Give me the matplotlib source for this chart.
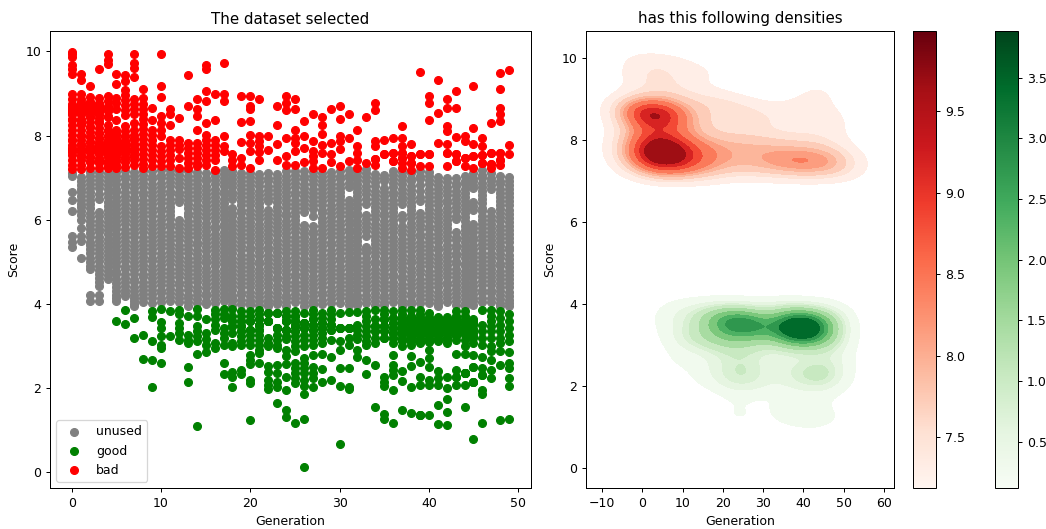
import matplotlib
matplotlib.use("Agg")
import matplotlib.pyplot as plt
import seaborn as sns
from matplotlib.cm import ScalarMappable
from matplotlib.colors import Normalize

# everything in the reference sits at 0.9 of the default sizes
plt.rcParams.update({
    "font.size": 9,
    "axes.linewidth": 0.72,
    "axes.titlepad": 5.4,
    "axes.labelpad": 3.6,
    "lines.linewidth": 1.35,
    "lines.markersize": 5.6,
    "patch.linewidth": 0.9,
    "xtick.major.size": 3.15,
    "ytick.major.size": 3.15,
    "xtick.major.width": 0.72,
    "ytick.major.width": 0.72,
    "xtick.major.pad": 3.15,
    "ytick.major.pad": 3.15,
})

# scores per generation, index in the list = generation
unused = [
    [7.12, 7.03, 6.67, 6.47, 6.2, 5.62, 5.48, 5.36],
    [7.02, 6.83, 6.65, 6.47, 6.3, 6.12, 6.0, 5.8, 5.62, 5.5, 5.1],
    [7.14, 6.95, 6.76, 6.56, 6.37, 6.17, 5.98, 5.78, 5.58, 5.39, 5.2, 5.0, 4.82, 4.22, 4.08],
    [7.13, 6.94, 6.75, 6.5, 6.18, 5.98, 5.79, 5.6, 5.4, 5.2, 5.01, 4.8, 4.62, 4.43, 4.2, 4.06],
    [7.12, 6.93, 6.73, 6.53, 6.33, 6.14, 5.94, 5.75, 5.55, 5.35, 5.16, 4.96, 4.77, 4.58],
    [7.13, 6.95, 6.74, 6.55, 6.35, 6.16, 5.96, 5.77, 5.57, 5.38, 5.18, 4.99, 4.79, 4.6, 4.4, 4.22, 4.08],
    [7.15, 6.96, 6.77, 6.57, 6.38, 6.18, 5.99, 5.79, 5.6, 5.4, 5.21, 5.01, 4.82, 4.62, 4.43, 4.25, 4.18],
    [7.14, 6.94, 6.75, 6.55, 6.36, 6.16, 5.97, 5.77, 5.58, 5.38, 5.19, 4.99, 4.8, 4.6, 4.41, 4.22, 4.06, 3.94],
    [7.16, 6.97, 6.77, 6.58, 6.38, 6.19, 5.99, 5.8, 5.6, 5.41, 5.21, 5.02, 4.82, 4.63, 4.43, 4.24, 4.05],
    [7.15, 6.96, 6.76, 6.57, 6.37, 6.18, 5.98, 5.79, 5.59, 5.4, 5.2, 5.01, 4.81, 4.62, 4.42, 4.23, 4.03],
    [7.17, 6.98, 6.78, 6.59, 6.39, 6.2, 6.0, 5.81, 5.61, 5.42, 5.22, 5.03, 4.83, 4.64, 4.44, 4.25, 4.05],
    [7.18, 6.99, 6.79, 6.6, 6.4, 6.21, 6.01, 5.82, 5.62, 5.43, 5.23, 5.04, 4.84, 4.65, 4.45, 4.26, 4.06],
    [7.16, 6.97, 6.77, 6.58, 6.42, 6.0, 5.8, 5.61, 5.41, 5.22, 5.02, 4.83, 4.63, 4.44, 4.24, 4.05],
    [7.05, 6.86, 6.66, 6.47, 6.27, 6.08, 5.88, 5.69, 5.49, 5.3, 5.1, 4.91, 4.71, 4.52, 4.32, 4.13, 3.96],
    [7.14, 6.95, 6.75, 6.56, 6.36, 6.17, 5.97, 5.78, 5.58, 5.39, 5.19, 5.0, 4.8, 4.61, 4.41, 4.22, 4.02],
    [7.1, 6.91, 6.71, 6.52, 6.32, 6.13, 5.93, 5.74, 5.54, 5.35, 5.15, 4.96, 4.76, 4.57, 4.37, 4.18, 4.0],
    [7.13, 6.94, 6.74, 6.55, 6.35, 6.16, 5.96, 5.77, 5.57, 5.38, 5.18, 4.99, 4.79, 4.6, 4.4, 4.21, 4.01],
    [7.18, 6.99, 6.79, 6.6, 6.4, 6.21, 6.01, 5.82, 5.62, 5.43, 5.23, 5.04, 4.84, 4.65, 4.45, 4.26, 4.06],
    [7.16, 6.97, 6.77, 6.58, 6.27, 6.08, 5.88, 5.69, 5.49, 5.3, 5.1, 4.91, 4.71, 4.52, 4.32, 4.13, 3.98],
    [7.12, 6.93, 6.73, 6.54, 6.34, 6.15, 5.95, 5.76, 5.56, 5.37, 5.17, 4.98, 4.78, 4.59, 4.39, 4.2, 4.0],
    [7.02, 6.83, 6.63, 6.44, 6.24, 6.05, 5.85, 5.66, 5.46, 5.27, 5.07, 4.88, 4.68, 4.49, 4.29, 4.1, 3.97],
    [7.08, 6.89, 6.69, 6.5, 6.3, 6.11, 5.91, 5.72, 5.52, 5.33, 5.13, 4.94, 4.74, 4.55, 4.35, 4.16, 3.98],
    [7.1, 6.91, 6.71, 6.52, 6.24, 6.05, 5.85, 5.66, 5.46, 5.27, 5.07, 4.88, 4.68, 4.49, 4.29, 4.1, 3.95],
    [7.09, 6.9, 6.7, 6.51, 6.31, 6.12, 5.92, 5.73, 5.53, 5.34, 5.14, 4.95, 4.75, 4.56, 4.36, 4.17, 3.99],
    [7.05, 6.86, 6.66, 6.47, 6.27, 6.08, 5.88, 5.69, 5.49, 5.3, 5.1, 4.91, 4.71, 4.52, 4.32, 4.13, 3.96],
    [7.16, 6.97, 6.77, 6.58, 6.38, 6.19, 5.99, 5.8, 5.6, 5.41, 5.21, 5.02, 4.82, 4.63, 4.43, 4.24, 4.04],
    [7.15, 6.96, 6.76, 6.57, 6.37, 6.18, 5.88, 5.69, 5.49, 5.3, 5.1, 4.91, 4.71, 4.52, 4.32, 4.13, 3.96],
    [7.13, 6.94, 6.74, 6.55, 6.35, 6.1, 5.84, 5.65, 5.45, 5.26, 5.06, 4.87, 4.67, 4.48, 4.28, 4.09, 3.97],
    [7.12, 6.93, 6.73, 6.54, 6.34, 6.15, 5.95, 5.76, 5.56, 5.37, 5.17, 4.98, 4.78, 4.59, 4.39, 4.2, 4.0],
    [7.14, 6.95, 6.75, 6.56, 6.36, 6.17, 5.97, 5.78, 5.58, 5.39, 5.19, 5.0, 4.8, 4.61, 4.41, 4.22, 4.02],
    [7.15, 6.96, 6.76, 6.57, 6.37, 6.18, 5.98, 5.79, 5.59, 5.4, 5.2, 5.01, 4.81, 4.62, 4.42, 4.23, 4.03],
    [7.17, 6.98, 6.78, 6.48, 6.28, 6.09, 5.89, 5.7, 5.5, 5.31, 5.11, 4.92, 4.72, 4.53, 4.33, 4.14, 3.98],
    [7.05, 6.86, 6.66, 6.47, 6.27, 6.08, 5.88, 5.69, 5.49, 5.3, 5.1, 4.91, 4.71, 4.52, 4.32, 4.13, 3.97],
    [7.2, 7.01, 6.81, 6.62, 6.38, 6.12, 5.92, 5.73, 5.36, 5.2, 5.0, 4.81, 4.61, 4.42, 4.22, 4.03],
    [7.08, 6.89, 6.69, 6.5, 6.3, 6.11, 5.91, 5.72, 5.52, 5.33, 5.13, 4.94, 4.74, 4.55, 4.35, 4.16, 3.98],
    [7.06, 6.92, 6.66, 6.47, 6.27, 6.08, 5.88, 5.69, 5.49, 5.3, 5.1, 4.91, 4.71, 4.52, 4.32, 4.13, 3.97],
    [7.16, 6.97, 6.77, 6.58, 6.38, 6.19, 5.99, 5.8, 5.6, 5.41, 5.21, 5.02, 4.82, 4.63, 4.43, 4.24, 4.04],
    [7.13, 6.94, 6.74, 6.55, 6.38, 6.12, 5.85, 5.65, 5.45, 5.26, 5.06, 4.87, 4.67, 4.48, 4.28, 4.09, 3.96],
    [7.1, 6.91, 6.71, 6.52, 6.32, 6.13, 5.93, 5.74, 5.54, 5.35, 5.15, 4.96, 4.76, 4.57, 4.37, 4.18, 4.0],
    [7.15, 6.96, 6.68, 6.44, 6.16, 5.97, 5.77, 5.58, 5.38, 5.19, 4.99, 4.8, 4.6, 4.41, 4.21, 4.02],
    [7.13, 6.94, 6.74, 6.55, 6.35, 6.16, 5.96, 5.77, 5.57, 5.38, 5.18, 4.99, 4.79, 4.6, 4.4, 4.21, 4.01],
    [7.02, 6.83, 6.63, 6.44, 6.24, 6.05, 5.85, 5.66, 5.46, 5.27, 5.07, 4.88, 4.68, 4.49, 4.29, 4.1, 3.96],
    [7.0, 6.78, 6.58, 6.39, 6.19, 6.0, 5.8, 5.61, 5.41, 5.22, 5.02, 4.83, 4.63, 4.44, 4.24, 4.05],
    [6.98, 6.79, 6.59, 6.4, 6.2, 6.01, 5.7, 5.51, 5.32, 5.13, 4.94, 4.74, 4.55, 4.35, 4.16, 3.98],
    [7.03, 6.84, 6.64, 6.45, 6.25, 6.06, 5.86, 5.67, 5.47, 5.28, 5.08, 4.89, 4.69, 4.5, 4.3, 4.11, 3.96],
    [7.1, 6.91, 6.75, 6.42, 6.22, 5.9, 5.7, 5.51, 5.31, 5.12, 4.92, 4.73, 4.53, 4.34, 4.14, 3.98],
    [7.17, 6.98, 6.78, 6.59, 6.39, 6.2, 6.0, 5.81, 5.61, 5.42, 5.22, 5.03, 4.83, 4.64, 4.44, 4.25, 4.05],
    [7.1, 6.91, 6.73, 6.2, 6.0, 5.81, 5.61, 5.42, 5.22, 5.03, 4.83, 4.64, 4.44, 4.25, 4.05],
    [7.03, 6.84, 6.64, 6.45, 6.25, 6.06, 5.86, 5.67, 5.47, 5.28, 5.08, 4.89, 4.69, 4.5, 4.3, 4.11, 3.96],
    [7.02, 6.83, 6.63, 6.44, 6.24, 6.05, 5.85, 5.66, 5.46, 5.27, 5.07, 4.88, 4.68, 4.49, 4.29, 4.1, 3.96],
]

# the points lying between those above, where the columns read as solid
unused_between = [
    [],
    [6.92, 6.74, 6.56, 6.38, 6.21],
    [7.05, 6.85, 6.66, 6.46, 6.27, 6.07, 5.88, 5.68, 5.48, 5.3, 5.1, 4.91],
    [7.04, 6.85, 6.62, 6.08, 5.88, 5.7, 5.5, 5.3, 5.11, 4.9, 4.71, 4.52],
    [7.02, 6.83, 6.63, 6.43, 6.24, 6.04, 5.85, 5.65, 5.45, 5.26, 5.06, 4.87, 4.68],
    [7.04, 6.85, 6.65, 6.45, 6.26, 6.06, 5.87, 5.67, 5.48, 5.28, 5.09, 4.89, 4.7, 4.5, 4.31, 4.15],
    [7.05, 6.86, 6.67, 6.47, 6.28, 6.08, 5.89, 5.69, 5.5, 5.3, 5.11, 4.91, 4.72, 4.52, 4.34],
    [7.04, 6.85, 6.65, 6.46, 6.26, 6.07, 5.87, 5.68, 5.48, 5.29, 5.09, 4.9, 4.7, 4.51, 4.31, 4.14, 4.0],
    [7.06, 6.87, 6.67, 6.48, 6.28, 6.09, 5.89, 5.7, 5.5, 5.31, 5.11, 4.92, 4.72, 4.53, 4.33, 4.14],
    [7.05, 6.86, 6.66, 6.47, 6.27, 6.08, 5.88, 5.69, 5.49, 5.3, 5.1, 4.91, 4.71, 4.52, 4.32, 4.13],
    [7.07, 6.88, 6.68, 6.49, 6.29, 6.1, 5.9, 5.71, 5.51, 5.32, 5.12, 4.93, 4.73, 4.54, 4.34, 4.15],
    [7.08, 6.89, 6.69, 6.5, 6.3, 6.11, 5.91, 5.72, 5.52, 5.33, 5.13, 4.94, 4.74, 4.55, 4.35, 4.16],
    [7.06, 6.87, 6.67, 6.5, 5.9, 5.7, 5.51, 5.31, 5.12, 4.92, 4.73, 4.53, 4.34, 4.14],
    [7.15, 6.95, 6.76, 6.56, 6.37, 6.17, 5.98, 5.78, 5.59, 5.39, 5.2, 5.0, 4.81, 4.61, 4.42, 4.22, 4.04],
    [7.04, 6.85, 6.65, 6.46, 6.26, 6.07, 5.87, 5.68, 5.48, 5.29, 5.09, 4.9, 4.7, 4.51, 4.31, 4.12],
    [7.0, 6.81, 6.61, 6.42, 6.22, 6.03, 5.83, 5.64, 5.44, 5.25, 5.05, 4.86, 4.66, 4.47, 4.27, 4.08],
    [7.03, 6.84, 6.64, 6.45, 6.25, 6.06, 5.86, 5.67, 5.47, 5.28, 5.08, 4.89, 4.69, 4.5, 4.3, 4.11],
    [7.08, 6.89, 6.69, 6.5, 6.3, 6.11, 5.91, 5.72, 5.52, 5.33, 5.13, 4.94, 4.74, 4.55, 4.35, 4.16],
    [7.06, 6.87, 6.67, 6.49, 6.17, 5.98, 5.78, 5.59, 5.39, 5.2, 5.0, 4.81, 4.61, 4.42, 4.22, 4.06],
    [7.02, 6.83, 6.63, 6.44, 6.24, 6.05, 5.85, 5.66, 5.46, 5.27, 5.07, 4.88, 4.68, 4.49, 4.29, 4.1],
    [7.12, 6.92, 6.73, 6.53, 6.34, 6.14, 5.95, 5.75, 5.56, 5.36, 5.17, 4.97, 4.78, 4.58, 4.39, 4.19, 4.03],
    [6.98, 6.79, 6.59, 6.4, 6.2, 6.01, 5.81, 5.62, 5.42, 5.23, 5.03, 4.84, 4.64, 4.45, 4.25, 4.06],
    [7.0, 6.81, 6.61, 6.44, 6.14, 5.95, 5.75, 5.56, 5.36, 5.17, 4.97, 4.78, 4.58, 4.39, 4.19, 4.02],
    [6.99, 6.8, 6.6, 6.41, 6.21, 6.02, 5.82, 5.63, 5.43, 5.24, 5.04, 4.85, 4.65, 4.46, 4.26, 4.07],
    [7.15, 6.95, 6.76, 6.56, 6.37, 6.17, 5.98, 5.78, 5.59, 5.39, 5.2, 5.0, 4.81, 4.61, 4.42, 4.22, 4.04],
    [7.06, 6.87, 6.67, 6.48, 6.28, 6.09, 5.89, 5.7, 5.5, 5.31, 5.11, 4.92, 4.72, 4.53, 4.33, 4.14],
    [7.05, 6.86, 6.66, 6.47, 6.27, 5.78, 5.59, 5.39, 5.2, 5.0, 4.81, 4.61, 4.42, 4.22, 4.04],
    [7.03, 6.84, 6.64, 6.45, 6.25, 5.74, 5.55, 5.35, 5.16, 4.96, 4.77, 4.57, 4.38, 4.18, 4.03],
    [7.02, 6.83, 6.63, 6.44, 6.24, 6.05, 5.85, 5.66, 5.46, 5.27, 5.07, 4.88, 4.68, 4.49, 4.29, 4.1],
    [7.04, 6.85, 6.65, 6.46, 6.26, 6.07, 5.87, 5.68, 5.48, 5.29, 5.09, 4.9, 4.7, 4.51, 4.31, 4.12],
    [7.05, 6.86, 6.66, 6.47, 6.27, 6.08, 5.88, 5.69, 5.49, 5.3, 5.1, 4.91, 4.71, 4.52, 4.32, 4.13],
    [7.07, 6.88, 6.38, 6.18, 5.99, 5.79, 5.6, 5.4, 5.21, 5.01, 4.82, 4.62, 4.43, 4.23, 4.06],
    [7.14, 6.95, 6.76, 6.56, 6.37, 6.17, 5.98, 5.78, 5.59, 5.39, 5.2, 5.0, 4.81, 4.61, 4.42, 4.22, 4.05],
    [7.1, 6.91, 6.71, 6.5, 6.02, 5.82, 5.62, 5.28, 5.1, 4.9, 4.71, 4.51, 4.32, 4.12],
    [6.98, 6.79, 6.59, 6.4, 6.2, 6.01, 5.81, 5.62, 5.42, 5.23, 5.03, 4.84, 4.64, 4.45, 4.25, 4.06],
    [6.99, 6.76, 6.56, 6.37, 6.17, 5.98, 5.78, 5.59, 5.39, 5.2, 5.0, 4.81, 4.61, 4.42, 4.22, 4.04],
    [7.06, 6.87, 6.67, 6.48, 6.28, 6.09, 5.89, 5.7, 5.5, 5.31, 5.11, 4.92, 4.72, 4.53, 4.33, 4.14],
    [7.03, 6.84, 6.64, 6.46, 6.02, 5.75, 5.55, 5.36, 5.16, 4.97, 4.77, 4.58, 4.38, 4.18, 4.02],
    [7.0, 6.81, 6.61, 6.42, 6.22, 6.03, 5.83, 5.64, 5.44, 5.25, 5.05, 4.86, 4.66, 4.47, 4.27, 4.08],
    [7.05, 6.82, 6.55, 6.06, 5.87, 5.67, 5.48, 5.28, 5.09, 4.89, 4.7, 4.5, 4.31, 4.11],
    [7.03, 6.84, 6.64, 6.45, 6.25, 6.06, 5.86, 5.67, 5.47, 5.28, 5.08, 4.89, 4.69, 4.5, 4.3, 4.11],
    [6.92, 6.73, 6.53, 6.34, 6.14, 5.95, 5.75, 5.56, 5.36, 5.17, 4.97, 4.78, 4.58, 4.39, 4.19, 4.03],
    [6.89, 6.68, 6.48, 6.29, 6.09, 5.9, 5.7, 5.51, 5.31, 5.12, 4.92, 4.73, 4.53, 4.34, 4.14],
    [6.88, 6.69, 6.49, 6.3, 6.1, 5.6, 5.41, 5.22, 5.03, 4.84, 4.64, 4.45, 4.25, 4.07],
    [6.93, 6.74, 6.54, 6.35, 6.15, 5.96, 5.76, 5.57, 5.37, 5.18, 4.98, 4.79, 4.59, 4.4, 4.2, 4.03],
    [7.0, 6.83, 6.32, 5.8, 5.6, 5.41, 5.21, 5.02, 4.82, 4.63, 4.43, 4.24, 4.06],
    [7.07, 6.88, 6.68, 6.49, 6.29, 6.1, 5.9, 5.71, 5.51, 5.32, 5.12, 4.93, 4.73, 4.54, 4.34, 4.15],
    [7.0, 6.82, 6.1, 5.9, 5.71, 5.51, 5.32, 5.12, 4.93, 4.73, 4.54, 4.34, 4.15],
    [6.93, 6.74, 6.54, 6.35, 6.15, 5.96, 5.76, 5.57, 5.37, 5.18, 4.98, 4.79, 4.59, 4.4, 4.2, 4.03],
    [6.92, 6.73, 6.53, 6.34, 6.14, 5.95, 5.75, 5.56, 5.36, 5.17, 4.97, 4.78, 4.58, 4.39, 4.19, 4.03],
]

good = [
    [], [], [], [], [],
    [3.6],
    [3.86, 3.52],
    [3.67, 3.19],
    [3.25, 2.69],
    [3.82, 3.69, 3.11, 2.67, 2.03],
    [3.88, 3.56, 3.43, 3.24, 3.03, 2.95, 2.59],
    [3.84, 3.24],
    [3.86, 3.75, 3.55, 3.43, 3.31, 3.15],
    [3.72, 3.27, 3.15, 3.07, 2.49, 2.14],
    [3.885, 3.72, 3.47, 3.35, 3.23, 3.11, 2.8, 1.1],
    [3.63, 3.31, 3.16, 3.03, 2.85],
    [3.86, 3.75, 3.63, 3.51, 3.39, 3.07, 2.95],
    [3.88, 3.75, 3.67, 3.43, 3.31, 3.19, 3.03, 2.59, 2.33],
    [3.88, 3.71, 3.59, 3.47, 3.32, 3.07, 2.99, 2.39, 2.27, 2.03],
    [3.82, 3.71, 3.59, 3.47, 3.35, 3.23, 3.11, 3.03, 2.43, 2.33],
    [3.82, 3.71, 3.59, 3.39, 3.27, 3.15, 3.03, 2.79, 2.67, 2.57, 2.19, 2.11, 1.25],
    [3.86, 3.75, 3.63, 3.51, 3.39, 3.27, 3.15, 3.03, 2.91, 2.83, 2.59],
    [3.78, 3.59, 3.19, 3.07, 2.99, 2.53, 2.39, 2.19, 2.07, 1.99],
    [3.78, 3.43, 3.27, 3.15, 3.03, 2.95, 2.55, 2.35, 2.15, 2.03, 1.65],
    [3.82, 3.71, 3.59, 3.39, 3.23, 3.16, 2.91, 2.77, 2.57, 2.26, 1.95, 1.47, 1.31],
    [3.82, 3.71, 3.59, 3.47, 3.35, 3.23, 3.11, 2.99, 2.87, 2.59, 2.47, 2.35, 2.23, 2.11, 1.17],
    [3.78, 3.55, 3.43, 3.27, 3.15, 2.99, 2.71, 2.59, 2.47, 2.35, 2.19, 2.05, 1.86, 1.27, 0.12],
    [3.86, 3.75, 3.63, 3.51, 3.39, 3.27, 3.15, 3.03, 2.79, 2.49, 2.35, 2.23, 2.03],
    [3.78, 3.67, 3.55, 3.43, 3.31, 3.19, 3.07, 2.81, 2.45, 2.15],
    [3.86, 3.75, 3.63, 3.51, 3.39, 3.15, 2.73, 2.19],
    [3.78, 3.43, 3.13, 2.9, 2.47, 2.05, 0.68],
    [3.8, 3.43, 3.19, 3.03, 2.47, 2.03, 1.97],
    [3.81, 3.51, 3.39, 3.27, 3.17, 2.9, 2.73],
    [3.82, 3.71, 3.59, 3.47, 3.35, 3.23, 3.11, 3.03, 2.67, 2.33],
    [3.85, 3.63, 3.47, 3.35, 3.19, 3.07, 2.55, 1.55],
    [3.86, 3.75, 3.63, 3.47, 3.35, 3.19, 2.27, 2.15, 2.05, 1.39, 1.27],
    [3.82, 3.67, 3.55, 3.43, 3.31, 3.19, 3.07, 2.79, 2.55, 2.43, 2.31, 1.95, 1.18],
    [3.86, 3.75, 3.63, 3.51, 3.39, 3.27, 3.11, 2.99, 2.41, 2.17, 1.49],
    [3.86, 3.71, 3.55, 3.39, 3.23, 3.03, 2.77, 2.53, 2.03],
    [3.86, 3.75, 3.59, 3.43, 3.27, 3.07, 2.63, 2.27, 2.07, 1.37],
    [3.78, 3.39, 3.27, 3.11, 2.91, 2.71, 2.49, 2.19, 2.07],
    [3.67, 3.55, 3.39, 3.27, 3.11, 2.41, 2.23, 2.07, 1.59, 1.14],
    [3.63, 3.51, 3.35, 3.19, 3.07, 2.27, 2.01, 1.73, 1.43, 1.13],
    [3.82, 3.71, 3.55, 3.39, 3.23, 2.81, 2.43, 2.27, 2.07],
    [3.82, 3.71, 3.55, 3.15, 2.99, 2.81, 2.35, 2.07, 1.55],
    [3.55, 3.39, 3.23, 3.07, 2.79, 2.49, 2.15, 0.78],
    [3.86, 3.51, 3.35, 3.19, 3.03, 2.73, 2.47, 2.31, 1.95, 1.85, 1.18],
    [3.86, 3.71, 3.59, 3.47, 3.35, 3.19, 2.99, 2.87, 2.67, 2.43, 2.23],
    [3.82, 3.67, 3.51, 3.35, 3.19, 3.07, 2.87, 2.55, 1.25],
    [3.75, 3.59, 3.43, 3.27, 3.11, 2.85, 2.59, 2.47, 2.25, 2.05, 1.27],
]

# points hidden under the visible ones
good_hidden = {
    18: [3.47, 3.59],
    19: [3.35, 3.47, 3.59],
    20: [3.39, 3.39, 3.59, 3.59],
    21: [3.39, 3.51, 3.51, 3.63],
    22: [3.59, 3.59, 3.59, 3.59, 3.78],
    23: [3.43, 3.43, 3.43, 3.43, 3.78, 3.78],
    24: [3.39, 3.39, 3.39, 3.59, 3.59, 3.59, 3.71],
    25: [3.35, 3.47, 3.47, 3.47, 3.59, 3.59, 3.71],
    26: [3.43, 3.43, 3.55, 3.55, 3.55],
    27: [3.39, 3.51, 3.51, 3.63],
    28: [3.43, 3.43, 3.55],
    29: [3.39, 3.51, 3.51],
    30: [3.43, 3.43, 3.43],
    31: [3.43, 3.43, 3.43],
    34: [3.35, 3.47, 3.47],
    35: [3.19, 3.35, 3.47, 3.47, 3.63, 3.63],
    36: [3.19, 3.31, 3.31, 3.43, 3.43, 3.55, 3.67],
    37: [3.15, 3.2, 3.3, 3.35, 3.4, 3.45, 3.55, 3.6, 3.7],
    38: [1.4, 3.1, 3.15, 3.2, 3.25, 3.3, 3.35, 3.4, 3.45, 3.5, 3.6, 3.65, 3.7],
    39: [1.37, 1.37, 3.1, 3.15, 3.2, 3.25, 3.3, 3.35, 3.4, 3.45, 3.5, 3.55, 3.65, 3.7],
    40: [1.35, 3.1, 3.15, 3.2, 3.25, 3.3, 3.35, 3.4, 3.45, 3.5, 3.55, 3.6, 3.65, 3.7],
    41: [3.15, 3.2, 3.25, 3.3, 3.35, 3.4, 3.45, 3.5, 3.6, 3.65, 3.7],
    42: [3.15, 3.2, 3.25, 3.3, 3.4, 3.45, 3.5, 3.55, 3.6, 3.65, 3.7],
    43: [2.27, 3.15, 3.25, 3.3, 3.35, 3.4, 3.45, 3.5, 3.6, 3.65, 3.7],
    44: [2.35, 2.35, 2.35, 2.35, 2.35, 3.25, 3.3, 3.35, 3.4, 3.45, 3.5, 3.6, 3.65],
    45: [2.15, 2.15, 2.49, 3.2, 3.3, 3.4, 3.5, 3.6, 3.65],
    46: [2.31],
}

bad = [
    [9.99, 9.93, 9.87, 9.68, 9.58, 9.47, 8.98, 8.86, 8.74, 8.62, 8.5, 8.38, 8.26, 8.14, 8.02, 7.9, 7.78, 7.66, 7.54, 7.42, 7.3, 7.21],
    [9.47, 9.31, 8.98, 8.86, 8.74, 8.62, 8.5, 8.38, 8.26, 8.14, 8.02, 7.9, 7.78, 7.66, 7.54, 7.42, 7.3, 7.21],
    [9.17, 8.92, 8.8, 8.68, 8.56, 8.44, 8.32, 8.2, 8.08, 7.96, 7.84, 7.72, 7.6, 7.48, 7.36, 7.24],
    [9.58, 8.9, 8.78, 8.66, 8.54, 8.42, 8.3, 8.18, 8.06, 7.94, 7.82, 7.7, 7.58, 7.46, 7.34, 7.22],
    [9.93, 9.8, 9.69, 8.94, 8.82, 8.7, 8.58, 8.46, 8.24, 8.12, 8.0, 7.88, 7.76, 7.64, 7.52, 7.4, 7.28, 7.22],
    [9.47, 9.23, 8.9, 8.78, 8.62, 8.38, 8.14, 8.02, 7.9, 7.79, 7.55, 7.43, 7.31, 7.22],
    [9.43, 9.3, 9.08, 8.96, 8.84, 8.72, 8.6, 8.48, 8.22, 8.1, 7.98, 7.85, 7.73, 7.61, 7.49, 7.37, 7.25],
    [9.93, 9.73, 9.6, 9.4, 8.86, 8.74, 8.62, 8.5, 8.3, 8.14, 8.02, 7.9, 7.78, 7.66, 7.54, 7.43, 7.29],
    [9.1, 8.88, 8.76, 8.64, 8.52, 8.4, 8.28, 8.16, 8.04, 7.92, 7.8, 7.68, 7.56, 7.44, 7.32, 7.22],
    [8.66, 8.38, 8.14, 8.02, 7.9, 7.78, 7.66, 7.54, 7.42, 7.27],
    [9.93, 9.17, 8.92, 8.46, 8.3, 8.12, 7.98, 7.75, 7.63, 7.51, 7.39, 7.27],
    [8.62, 8.5, 8.26, 7.9, 7.78, 7.66, 7.54, 7.42, 7.27],
    [8.42, 7.9, 7.78, 7.67, 7.47, 7.23],
    [9.43, 8.7, 7.83, 7.71, 7.59, 7.47, 7.35, 7.23],
    [8.86, 8.62, 8.46, 8.14, 7.83, 7.71, 7.59, 7.47, 7.35, 7.27],
    [9.68, 9.59, 9.06, 8.82, 8.3, 8.02, 7.9, 7.78, 7.66, 7.54, 7.42, 7.29],
    [8.99, 8.38, 7.9, 7.78, 7.66, 7.54, 7.42, 7.19],
    [9.73, 8.99, 8.82, 7.98, 7.75, 7.63],
    [7.55, 7.43, 7.27],
    [8.94, 8.32, 7.85, 7.47, 7.3],
    [8.94, 8.7, 8.62, 8.34, 8.02, 7.83, 7.63, 7.23],
    [8.86, 7.98, 7.86, 7.74, 7.62, 7.43],
    [7.98, 7.65],
    [8.7, 8.24, 7.79, 7.43],
    [8.94, 8.78, 8.6, 7.94, 7.51, 7.31],
    [8.86, 8.62, 8.13, 7.94, 7.83, 7.63, 7.31],
    [8.34, 7.98, 7.7, 7.36],
    [8.5, 7.88, 7.63, 7.51, 7.39, 7.23],
    [8.43, 8.24, 8.03, 7.78, 7.58, 7.24],
    [8.64, 7.83, 7.57, 7.36],
    [8.7, 8.4, 7.98, 7.86, 7.67, 7.27],
    [8.51, 7.93, 7.39],
    [8.14, 7.75, 7.59, 7.43, 7.24],
    [8.45, 7.35],
    [8.78, 8.6, 7.87, 7.75, 7.45, 7.31],
    [7.9, 7.56],
    [7.94, 7.58, 7.39],
    [8.22, 7.94, 7.75, 7.59, 7.47, 7.35, 7.23],
    [7.81, 7.51, 7.35, 7.19],
    [9.51, 7.55, 7.27],
    [8.94, 8.78, 8.37, 7.55, 7.27],
    [9.31, 8.53, 7.83],
    [8.86, 8.66, 8.22, 8.1, 7.79, 7.59, 7.27],
    [9.06, 8.66, 7.96, 7.55, 7.39],
    [7.98, 7.88, 7.47, 7.27],
    [9.17, 8.17, 7.79, 7.51, 7.23],
    [7.94, 7.75, 7.53, 7.35],
    [8.3, 7.59, 7.33, 7.23],
    [9.49, 9.1, 8.66, 8.5, 8.34, 7.59, 7.43, 7.29],
    [9.55, 7.77, 7.55],
]

# same for the red columns
bad_hidden = {
    0: [8.7, 8.65, 8.6, 8.55, 8.5, 8.4, 7.9, 7.7, 7.6],
    1: [8.8, 8.75, 8.7, 8.68, 8.65, 8.62, 8.6, 8.58, 8.55, 8.5, 8.4, 8.3, 8.0, 7.8, 7.7, 7.6, 7.5],
    2: [8.8, 8.76, 8.72, 8.7, 8.68, 8.66, 8.64, 8.62, 8.6, 8.58, 8.55, 8.5, 8.45, 8.2, 8.0, 7.85, 7.75, 7.7, 7.65, 7.6, 7.5, 7.4],
    3: [8.75, 8.72, 8.68, 8.65, 8.62, 8.6, 8.55, 8.48, 8.35, 8.05, 7.95, 7.85, 7.78, 7.72, 7.66, 7.6, 7.55, 7.45, 7.4],
    4: [8.65, 8.6, 8.45, 8.1, 8.0, 7.9, 7.85, 7.8, 7.75, 7.7, 7.65, 7.6, 7.55, 7.5, 7.4, 7.35],
    5: [8.05, 7.95, 7.85, 7.8, 7.75, 7.7, 7.65, 7.6, 7.55, 7.5, 7.4],
    6: [8.0, 7.9, 7.8, 7.75, 7.7, 7.65, 7.55, 7.45],
    7: [7.95, 7.8, 7.7, 7.6, 7.5],
    34: [7.45],
    35: [7.56],
    36: [7.39, 7.58],
    37: [7.47, 7.59],
    38: [7.51, 7.35],
    39: [7.55],
    40: [7.55],
    42: [7.59],
    43: [7.55, 7.39],
    44: [7.47],
    45: [7.51],
    46: [7.53, 7.35],
    47: [7.59, 7.33],
    48: [7.43, 7.59],
}

legend_labels = ["unused", "good", "bad"]
point_colors = ["gray", "green", "red"]
x_ticks_right = [-10, 0, 10, 20, 30, 40, 50, 60]


def flatten(columns):
    gens, scores = [], []
    for gen, col in enumerate(columns):
        gens += [gen] * len(col)
        scores += col
    return gens, scores


def add_hidden(xs, ys, hidden):
    xs, ys = list(xs), list(ys)
    for gen, col in hidden.items():
        xs += [gen] * len(col)
        ys += col
    return xs, ys


unused_x, unused_y = flatten(unused)
between_x, between_y = flatten(unused_between)
unused_x += between_x
unused_y += between_y
good_x, good_y = add_hidden(*flatten(good), good_hidden)
bad_x, bad_y = add_hidden(*flatten(bad), bad_hidden)

fig = plt.figure(figsize=(10.46, 5.29), dpi=100)
W, H = 1046.0, 529.0


def add_box(left, right, top=31, bottom=488):
    return fig.add_axes([left / W, 1 - bottom / H, (right - left) / W, (bottom - top) / H])


ax1 = add_box(50, 531)
ax2 = add_box(586, 894)
cax_red = add_box(913, 936)
cax_green = add_box(995, 1018)

ax1.scatter(unused_x, unused_y, color=point_colors[0], label=legend_labels[0])
ax1.scatter(good_x, good_y, color=point_colors[1], label=legend_labels[1])
ax1.scatter(bad_x, bad_y, color=point_colors[2], label=legend_labels[2])
ax1.set_title("The dataset selected")
ax1.set_xlabel("Generation")
ax1.set_ylabel("Score")
ax1.legend(loc="lower left")

sns.kdeplot(x=bad_x, y=bad_y, cmap="Reds", fill=True, ax=ax2)
sns.kdeplot(x=good_x, y=good_y, cmap="Greens", fill=True, ax=ax2)
ax2.set_xlim(-14, 62.5)
ax2.set_ylim(-0.49, 10.66)
ax2.set_xticks(x_ticks_right)
ax2.set_title("has this following densities")
ax2.set_xlabel("Generation")
ax2.set_ylabel("Score")

fig.colorbar(ScalarMappable(Normalize(min(bad_y), max(bad_y)), "Reds"), cax=cax_red)
fig.colorbar(ScalarMappable(Normalize(min(good_y), max(good_y)), "Greens"), cax=cax_green)

fig.savefig("out.png", dpi=100)
